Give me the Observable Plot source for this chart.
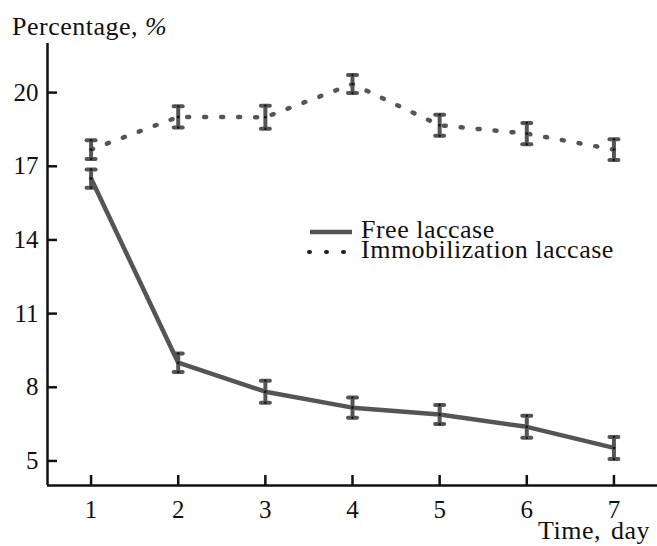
<!DOCTYPE html>
<html>
<head>
<meta charset="utf-8">
<script src="https://cdn.jsdelivr.net/npm/d3@7"></script>
<script src="https://cdn.jsdelivr.net/npm/@observablehq/plot@0.6"></script>
<style>
  html, body { margin: 0; padding: 0; background: #fff; }
  #chart { width: 657px; height: 546px; overflow: hidden; }
</style>
</head>
<body>
<div id="chart"></div>
<script>
// Laccase activity over a week of storage
const days = [1, 2, 3, 4, 5, 6, 7];
const freeLaccase = [16.5, 9.0, 7.82, 7.17, 6.89, 6.39, 5.53];
const freeError = [0.37, 0.38, 0.45, 0.41, 0.39, 0.45, 0.45];
const immobilizedLaccase = [17.68, 19.01, 19.0, 20.35, 18.67, 18.33, 17.68];
const immobilizedError = [0.38, 0.43, 0.47, 0.37, 0.43, 0.43, 0.42];
const yTicks = [5, 8, 11, 14, 17, 20];
const xTicks = days;
const seriesNames = ["Free laccase", "Immobilization laccase"];

const rows = (values, errors, series) =>
  days.map((d, i) => ({day: d, value: values[i], lo: values[i] - errors[i], hi: values[i] + errors[i], series}));
const freeRows = rows(freeLaccase, freeError, seriesNames[0]);
const immRows = rows(immobilizedLaccase, immobilizedError, seriesNames[1]);
const allRows = freeRows.concat(immRows);

const ink = "#555";
const font = "'Liberation Serif', 'DejaVu Serif', serif";

// horizontal cap drawn as a short stroke
const capSymbol = {draw(ctx) { ctx.moveTo(-4.5, 0); ctx.lineTo(4.5, 0); }};

const chart = Plot.plot({
  width: 657,
  height: 546,
  marginLeft: 47,
  marginRight: 0,
  marginTop: 43,
  marginBottom: 61,
  style: {fontFamily: font, fontSize: "25px", color: "#111", background: "#fff", overflow: "visible"},
  x: {domain: [0.5, 7.5]},
  y: {domain: [4, 22]},
  marks: [
    // series lines
    Plot.line(freeRows, {x: "day", y: "value", stroke: ink, strokeWidth: 4.5, strokeLinejoin: "round"}),
    Plot.line(immRows, {x: "day", y: "value", stroke: ink, strokeWidth: 4.5, strokeDasharray: "2,15", strokeLinecap: "round"}),
    // error bars
    Plot.ruleX(allRows, {x: "day", y1: "lo", y2: "hi", stroke: ink, strokeWidth: 4}),
    Plot.dot(allRows, {x: "day", y: "lo", symbol: capSymbol, stroke: ink, strokeWidth: 4, strokeLinecap: "round", fill: "none"}),
    Plot.dot(allRows, {x: "day", y: "hi", symbol: capSymbol, stroke: ink, strokeWidth: 4, strokeLinecap: "round", fill: "none"}),
    Plot.dot(allRows, {x: "day", y: "value", r: 1.3, fill: "#111", stroke: null}),
    Plot.dot(allRows, {x: "day", y: "lo", r: 1.2, fill: "#111", stroke: null}),
    Plot.dot(allRows, {x: "day", y: "hi", r: 1.2, fill: "#111", stroke: null}),
    // axes
    Plot.axisY(yTicks, {tickSize: -10, tickPadding: 19, strokeWidth: 2.5, stroke: "#111", label: null, fill: "#111", fontSize: 25}),
    Plot.axisX(xTicks, {tickSize: -10, tickPadding: 25, strokeWidth: 2.5, stroke: "#111", label: null, fill: "#111", fontSize: 25}),
    Plot.ruleX([0.5], {stroke: "#111", strokeWidth: 2.5}),
    Plot.ruleY([4], {stroke: "#111", strokeWidth: 2.5})
  ]
});

document.getElementById("chart").appendChild(chart);

// axis titles and legend
const svg = d3.select(chart);
const addText = (x, y) => svg.append("text")
  .attr("x", x).attr("y", y)
  .attr("text-anchor", "start")
  .attr("font-family", font).attr("font-size", 26).attr("letter-spacing", 0.5)
  .attr("fill", "#111");

const yTitle = addText(12, 35);
yTitle.append("tspan").text("Percentage, ");
yTitle.append("tspan").attr("font-style", "italic").text("%");

addText(538, 539).attr("word-spacing", 3).text("Time, day");

const legend = svg.append("g");
legend.append("line")
  .attr("x1", 310).attr("x2", 352).attr("y1", 232).attr("y2", 232)
  .attr("stroke", ink).attr("stroke-width", 4.5);
legend.append("line")
  .attr("x1", 309).attr("x2", 352).attr("y1", 252).attr("y2", 252)
  .attr("stroke", "#222").attr("stroke-width", 4)
  .attr("stroke-dasharray", "1,16").attr("stroke-linecap", "round");
seriesNames.forEach((name, i) => addText(361, 238 + i * 20).text(name));
</script>
</body>
</html>
